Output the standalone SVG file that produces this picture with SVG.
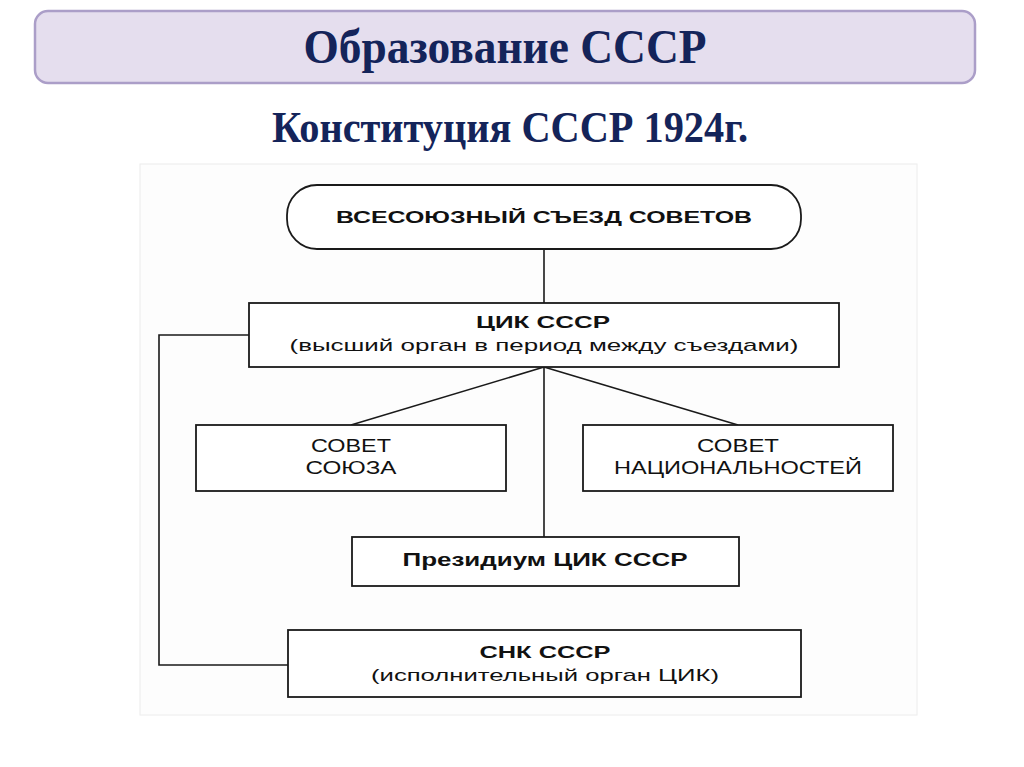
<svg xmlns="http://www.w3.org/2000/svg" width="1024" height="767" viewBox="0 0 1024 767">
<style>
.box{fill:#fff;stroke:#1a1a1a;stroke-width:1.8}
.ln{fill:none;stroke:#1a1a1a;stroke-width:1.6}
.b{font-family:"Liberation Sans",Arial,sans-serif;font-weight:bold;fill:#111;text-anchor:middle}
.r{font-family:"Liberation Sans",Arial,sans-serif;fill:#111;text-anchor:middle}
.t{font-family:"Liberation Serif","Times New Roman",serif;font-weight:bold;fill:#14245a;text-anchor:middle}
</style>
<rect width="1024" height="767" fill="#fff"/>
<g id="title">
<rect x="35" y="11" width="940" height="72" rx="13" fill="#e5deee" stroke="#ab9ec8" stroke-width="2.5"/>
<text class="t" x="505" y="63" font-size="48" textLength="403" lengthAdjust="spacingAndGlyphs">Образование СССР</text>
</g>
<g id="subtitle">
<text class="t" x="510" y="142" font-size="44" textLength="476" lengthAdjust="spacingAndGlyphs">Конституция СССР 1924г.</text>
</g>
<rect id="scan" x="140" y="164" width="777" height="551" fill="#fdfdfd" stroke="#ececec" stroke-width="1"/>
<g id="connectors">
<line class="ln" x1="544" y1="249" x2="544" y2="303"/>
<line class="ln" x1="544" y1="367" x2="544" y2="537"/>
<line class="ln" x1="544" y1="367" x2="351" y2="425"/>
<line class="ln" x1="544" y1="367" x2="738" y2="425"/>
<polyline class="ln" points="249,335 159,335 159,665 288,665"/>
</g>
<g id="congress">
<rect class="box" x="287" y="185" width="514" height="64" rx="30"/>
<text class="b" x="544" y="223" font-size="17" textLength="416" lengthAdjust="spacingAndGlyphs">ВСЕСОЮЗНЫЙ СЪЕЗД СОВЕТОВ</text>
</g>
<g id="cik">
<rect class="box" x="249" y="303" width="590" height="64"/>
<text class="b" x="543" y="328" font-size="17" textLength="134" lengthAdjust="spacingAndGlyphs">ЦИК СССР</text>
<text class="r" x="544" y="351" font-size="17" textLength="509" lengthAdjust="spacingAndGlyphs">(высший орган в период между съездами)</text>
</g>
<g id="union">
<rect class="box" x="196" y="425" width="310" height="66"/>
<text class="r" x="351" y="452" font-size="19" textLength="80" lengthAdjust="spacingAndGlyphs">СОВЕТ</text>
<text class="r" x="351" y="474" font-size="19" textLength="91" lengthAdjust="spacingAndGlyphs">СОЮЗА</text>
</g>
<g id="nationalities">
<rect class="box" x="583" y="425" width="310" height="66"/>
<text class="r" x="738" y="452" font-size="19" textLength="82" lengthAdjust="spacingAndGlyphs">СОВЕТ</text>
<text class="r" x="738" y="474" font-size="19" textLength="248" lengthAdjust="spacingAndGlyphs">НАЦИОНАЛЬНОСТЕЙ</text>
</g>
<g id="presidium">
<rect class="box" x="352" y="537" width="387" height="49"/>
<text class="b" x="545" y="566" font-size="18" textLength="285" lengthAdjust="spacingAndGlyphs">Президиум ЦИК СССР</text>
</g>
<g id="snk">
<rect class="box" x="288" y="630" width="513" height="67"/>
<text class="b" x="545" y="658" font-size="17" textLength="131" lengthAdjust="spacingAndGlyphs">СНК СССР</text>
<text class="r" x="545" y="681" font-size="17" textLength="348" lengthAdjust="spacingAndGlyphs">(исполнительный орган ЦИК)</text>
</g>
</svg>
